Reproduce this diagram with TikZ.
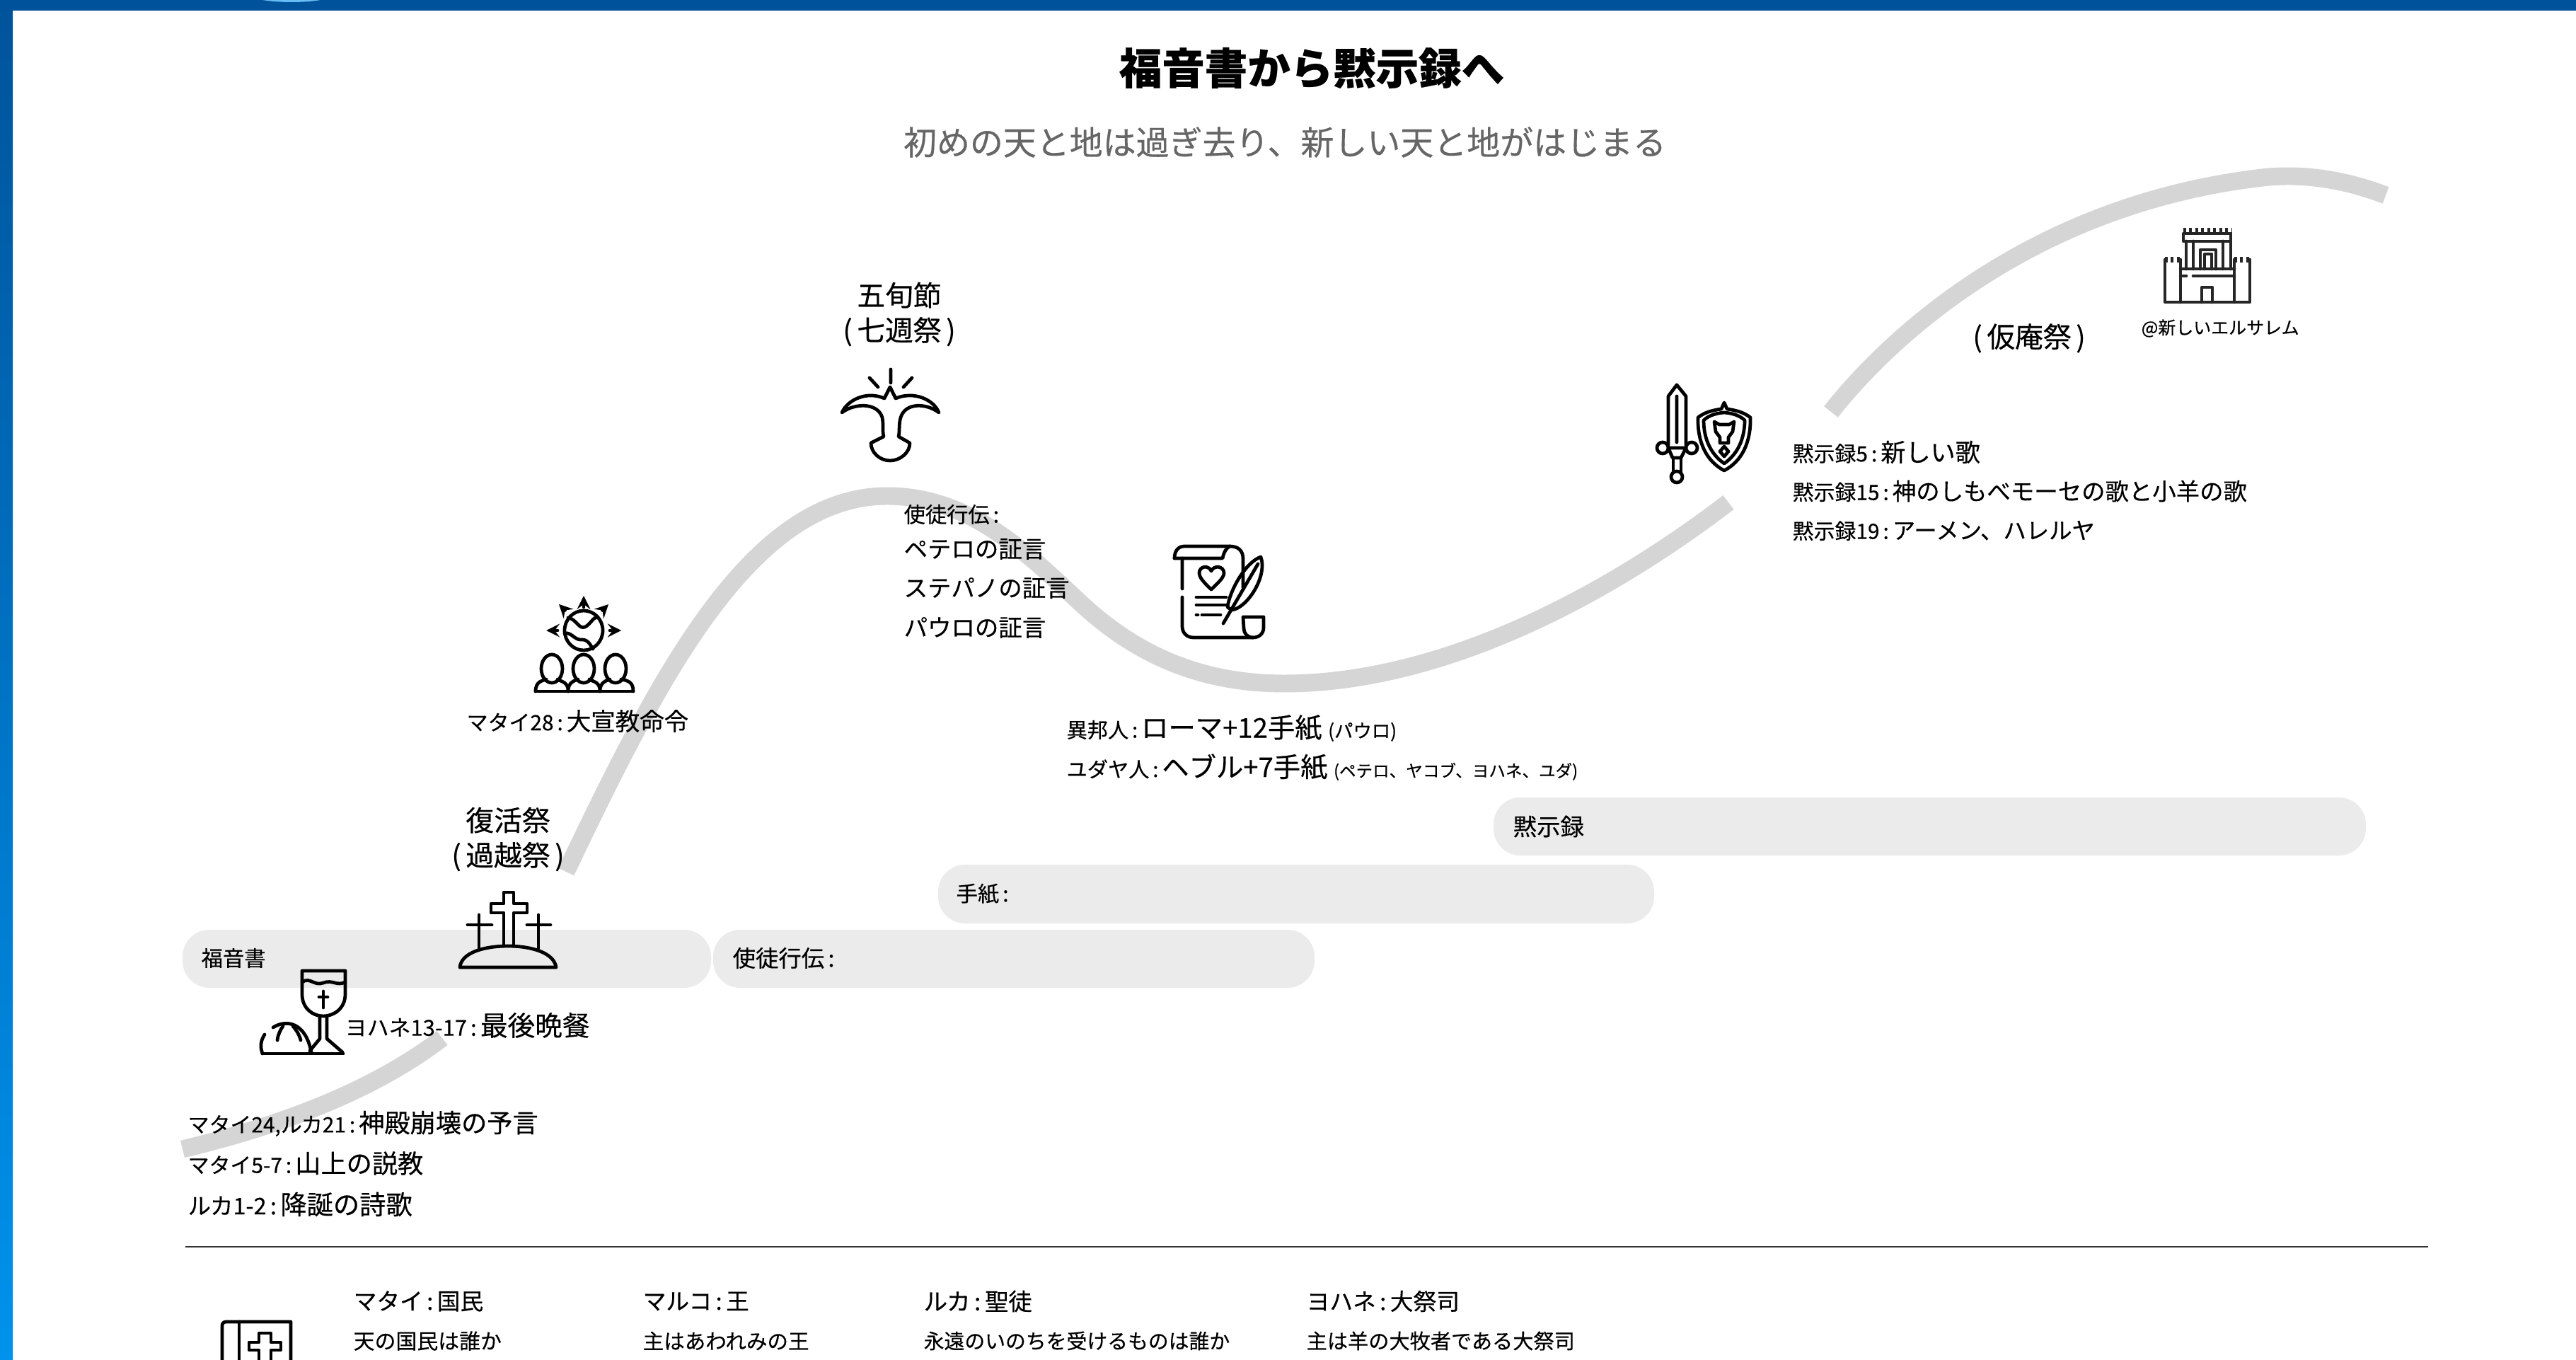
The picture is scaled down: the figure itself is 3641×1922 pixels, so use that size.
\documentclass[tikz,border=0pt]{standalone}
\usepackage{fontspec}
\setmainfont{Noto Sans CJK JP}[FakeBold=0.35]
\definecolor{barblue}{HTML}{00539B}
\definecolor{barlight}{HTML}{0092EC}
\definecolor{wavegray}{HTML}{D5D5D5}
\definecolor{bandgray}{HTML}{EBEBEB}
\definecolor{subgray}{HTML}{666666}
\newcommand{\fz}[1]{\fontsize{#1}{14}\selectfont}
\newcommand{\cln}{\,:\,}
\begin{document}
\begin{tikzpicture}[x=0.01cm,y=-0.01cm]
\tikzstyle{every node}+=[inner sep=0pt]
\tikzstyle{lab}=[anchor=west,font=\fz{9.5}]
\tikzstyle{feast}=[align=center,font=\fz{11.3}]
\tikzstyle{band}=[fill=bandgray,rounded corners=0.38cm]
\tikzstyle{wave}=[draw=wavegray,line width=7.1pt]
\tikzstyle{icon}=[black,line width=1.35pt,line join=round,line cap=round]
\useasboundingbox (0,0) rectangle (3641,1922);
\fill [white] (0,0) rectangle (3641,1922);
\shade [top color=barblue,bottom color=barlight] (0,0) rectangle (18,1922);
\fill [barblue] (0,0) rectangle (3641,15);
\fill [barlight!60!white] (371,0) .. controls (395,4) and (430,4) .. (453,0) -- cycle;
\fill [band] (258,1314) rectangle (1005,1396);
\fill [band] (1008,1314) rectangle (1858,1396);
\fill [band] (1326,1222) rectangle (2338,1305);
\fill [band] (2111,1127) rectangle (3344,1209);
\draw [wave] (258,1624) .. controls (400,1590) and (530,1540) .. (625,1467);
\draw [wave] (800,1232) .. controls (930,960) and (1060,701) .. (1254,701) .. controls (1370,701) and (1450,780) .. (1527,852) .. controls (1600,920) and (1690,966) .. (1815,966) .. controls (2030,966) and (2260,850) .. (2443,710);
\draw [wave] (2588,582) .. controls (2660,490) and (2860,290) .. (3198,251) .. controls (3260,244) and (3320,256) .. (3372,276);
\draw [black!80,line width=0.7pt] (262,1762) -- (3432,1762);
\node (title) at (1854,96) {\fz{17.2}\bfseries 福音書から黙示録へ};
\node (subtitle) at (1816,201) {\fz{13.35}\color{subgray}初めの天と地は過ぎ去り、新しい天と地がはじまる};
\node (gospels) at (284,1354) [lab] {\fz{8.6}福音書};
\node (acts) at (1035,1354) [lab] {\fz{9.2}使徒行伝\cln};
\node (letters) at (1351,1263) [lab] {\fz{8.6}手紙\cln};
\node (revband) at (2138,1168) [lab] {\fz{9.5}黙示録};
\node (prophecy) at (265,1588) [lab] {\fz{8.5}マタイ24,ルカ21\cln\fz{10.3}神殿崩壊の予言};
\node (sermon) at (265,1644) [lab] {\fz{8.5}マタイ5-7\cln\fz{10.3}山上の説教};
\node (nativity) at (265,1702) [lab] {\fz{9.2}ルカ1-2\cln\fz{10.6}降誕の詩歌};
\node (supper) at (487,1449) [lab] {\fz{8.8}ヨハネ13-17\cln\fz{11}最後晩餐};
\node (passover) at (718,1186) [feast] {復活祭\\(\,過越祭\,)};
\node (mission) at (659,1019) [lab] {\fz{8.5}マタイ28\cln\fz{9.8}大宣教命令};
\node (pentecost) at (1271,444) [feast] {五旬節\\(\,七週祭\,)};
\node (actshead) at (1277,727) [lab] {\fz{8.6}使徒行伝\cln};
\node (peter) at (1277,776) [lab] {ペテロの証言};
\node (stephen) at (1277,831) [lab] {ステパノの証言};
\node (paul) at (1277,887) [lab] {パウロの証言};
\node (gentiles) at (1507,1029) [lab] {\fz{8.3}異邦人\cln\fz{10.9}ローマ+12手紙 \fz{7.5}(パウロ)};
\node (jews) at (1507,1084) [lab] {\fz{8.3}ユダヤ人\cln\fz{10.9}ヘブル+7手紙 \fz{6.7}(ペテロ、ヤコブ、ヨハネ、ユダ)};
\node (revfive) at (2533,639) [lab] {\fz{8.5}黙示録5\cln\fz{10}新しい歌};
\node (revfifteen) at (2533,694) [lab] {\fz{8.5}黙示録15\cln\fz{9.5}神のしもべモーセの歌と小羊の歌};
\node (revnineteen) at (2533,750) [lab] {\fz{8.5}黙示録19\cln\fz{9.2}アーメン、ハレルヤ};
\node (tabernacles) at (2868,478) [feast] {(\,仮庵祭\,)};
\node (jerusalem) at (3026,464) [lab] {\fz{7.1}@新しいエルサレム};
\node (matthew) at (499,1839) [lab] {\fz{9.3}マタイ\cln 国民};
\node (mark) at (908,1839) [lab] {\fz{9.3}マルコ\cln 王};
\node (luke) at (1305,1839) [lab] {\fz{9.5}ルカ\cln 聖徒};
\node (john) at (1846,1839) [lab] {\fz{9.3}ヨハネ\cln 大祭司};
\node (matthewq) at (499,1895) [lab] {\fz{8.5}天の国民は誰か};
\node (markq) at (908,1895) [lab] {\fz{8.4}主はあわれみの王};
\node (lukeq) at (1305,1895) [lab] {\fz{8.2}永遠のいのちを受けるものは誰か};
\node (johnq) at (1846,1895) [lab] {\fz{8.3}主は羊の大牧者である大祭司};
\draw [icon] (427,1372) -- (488,1372) -- (488,1405) .. controls (488,1425) and (472,1436) .. (457,1436) .. controls (442,1436) and (427,1425) .. (427,1405) -- cycle;
\draw [icon] (427,1388) .. controls (438,1380) and (444,1394) .. (457,1389) .. controls (470,1384) and (476,1394) .. (488,1388);
\draw [icon] (457,1401) -- (457,1424) (451,1409) -- (463,1409);
\draw [icon] (452,1436) -- (452,1468) -- (438,1485) (462,1436) -- (462,1468) -- (484,1487);
\draw [icon] (371,1489) -- (485,1489);
\draw [icon] (371,1489) .. controls (367,1478) and (369,1470) .. (374,1462);
\draw [icon] (386,1452) .. controls (405,1440) and (432,1445) .. (440,1487);
\draw [icon] (392,1470) .. controls (393,1462) and (396,1456) .. (400,1450) (414,1450) .. controls (419,1456) and (423,1462) .. (425,1470);
\draw [icon] (712,1337) -- (712,1290) -- (694,1290) -- (694,1277) -- (712,1277) -- (712,1261) -- (726,1261) -- (726,1277) -- (745,1277) -- (745,1290) -- (726,1290) -- (726,1337);
\draw [icon] (677,1340) -- (677,1293) (661,1307) -- (695,1307);
\draw [icon] (761,1340) -- (761,1293) (745,1307) -- (778,1307);
\draw [icon] (650,1367) .. controls (652,1346) and (685,1337) .. (718,1337) .. controls (750,1337) and (783,1346) .. (786,1367) -- cycle;
\draw [icon] (825,891) ellipse [x radius=27,y radius=28];
\draw [icon] (803,873) .. controls (815,875) and (818,890) .. (827,886) .. controls (835,882) and (838,872) .. (845,872);
\draw [icon] (798,895) .. controls (808,893) and (812,905) .. (822,904) .. controls (832,903) and (836,915) .. (838,917);
\draw [icon,->,>=stealth] (825,858) -- (825,842);
\draw [icon,->,>=stealth] (788,891) -- (772,891);
\draw [icon,->,>=stealth] (862,891) -- (878,891);
\draw [icon,->,>=stealth] (798,862) -- (790,854);
\draw [icon,->,>=stealth] (852,862) -- (860,854);
\draw [icon] (780,945) ellipse [x radius=15,y radius=20];
\draw [icon] (825,945) ellipse [x radius=15,y radius=20];
\draw [icon] (870,945) ellipse [x radius=15,y radius=20];
\draw [icon] (757,977) .. controls (757,962) and (768,962) .. (772,960) (788,960) .. controls (795,964) and (803,964) .. (803,977);
\draw [icon] (803,977) .. controls (803,964) and (812,962) .. (817,960) (833,960) .. controls (840,964) and (848,964) .. (848,977);
\draw [icon] (848,977) .. controls (848,964) and (857,962) .. (862,960) (878,960) .. controls (888,962) and (895,964) .. (895,977);
\draw [icon] (757,977) -- (895,977);
\draw [icon] (1190,583) .. controls (1198,565) and (1225,552) .. (1250,563) -- (1258,547) -- (1266,563) .. controls (1292,552) and (1320,565) .. (1327,583) .. controls (1310,570) and (1280,568) .. (1273,590) .. controls (1270,600) and (1272,610) .. (1270,617) -- (1286,626) .. controls (1286,640) and (1272,651) .. (1258,651) .. controls (1244,651) and (1231,640) .. (1231,626) -- (1249,617) .. controls (1247,610) and (1249,600) .. (1247,590) .. controls (1240,568) and (1207,570) .. (1190,583) -- cycle;
\draw [icon] (1259,522) -- (1259,541) (1229,534) -- (1241,547) (1289,534) -- (1277,547);
\draw [icon] (1660,789) .. controls (1660,778) and (1666,772) .. (1674,772) -- (1738,772) .. controls (1750,772) and (1757,778) .. (1757,790) -- (1757,830);
\draw [icon] (1660,789) -- (1728,789) .. controls (1730,780) and (1733,775) .. (1738,772);
\draw [icon] (1671,789) -- (1671,832) (1671,844) -- (1671,885) .. controls (1671,895) and (1678,901) .. (1687,901) -- (1771,901);
\draw [icon] (1757,872) -- (1786,872) -- (1786,887) .. controls (1786,896) and (1779,901) .. (1771,901) .. controls (1763,901) and (1758,895) .. (1758,888) -- (1757,872);
\draw [icon] (1712,833) .. controls (1700,822) and (1695,815) .. (1695,810) .. controls (1695,800) and (1708,798) .. (1712,807) .. controls (1716,798) and (1730,800) .. (1730,810) .. controls (1730,815) and (1724,822) .. (1712,833) -- cycle;
\draw [icon] (1691,844) -- (1733,844) (1691,855) -- (1733,855) (1691,869) -- (1693,869) (1699,869) -- (1725,869);
\draw [icon] (1735,858) .. controls (1738,835) and (1760,795) .. (1782,787) .. controls (1792,815) and (1762,860) .. (1741,862) -- cycle;
\draw [icon] (1729,881) -- (1778,797);
\draw [icon] (2370,544) -- (2383,560) -- (2383,629) (2370,544) -- (2358,560) -- (2358,629) (2370,560) -- (2370,625);
\draw [icon] (2350,633) circle (8) (2391,633) circle (8) (2370,674) circle (8);
\draw [icon] (2358,633) -- (2383,633) -- (2376,647) -- (2364,647) -- cycle;
\draw [icon] (2365,647) -- (2365,666) (2376,647) -- (2376,666);
\draw [icon] (2437,569) -- (2441,578) .. controls (2455,580) and (2465,583) .. (2474,590) .. controls (2475,625) and (2462,652) .. (2437,665) .. controls (2412,652) and (2399,625) .. (2400,590) .. controls (2409,583) and (2419,580) .. (2433,578) -- cycle;
\draw [icon] (2437,583) .. controls (2450,584) and (2460,588) .. (2466,594) .. controls (2466,620) and (2456,642) .. (2437,655) .. controls (2418,642) and (2408,620) .. (2408,594) .. controls (2414,588) and (2424,584) .. (2437,583) -- cycle;
\draw [icon] (2423,596) -- (2430,600) -- (2444,600) -- (2451,596) -- (2449,610) -- (2443,618) -- (2443,626) -- (2431,626) -- (2431,618) -- (2425,610) -- cycle;
\draw [icon] (2437,631) -- (2443,638) -- (2437,645) -- (2431,638) -- cycle;
\draw [icon,black!85] (3086,330) rectangle (3153,341);
\draw [icon,black!85] (3090,341) -- (3090,380) (3100,341) -- (3100,380) (3142,341) -- (3142,380) (3153,341) -- (3153,380);
\draw [icon,black!85] (3110,380) -- (3110,353) -- (3132,353) -- (3132,380) (3116,380) -- (3116,359) -- (3126,359) -- (3126,380);
\draw [black!85,line width=2.2pt,dash pattern=on 1.1pt off 1.3pt] (3086,326) -- (3154,326);
\draw [black!85,line width=2.2pt,dash pattern=on 1.1pt off 1.3pt] (3060,367) -- (3083,367);
\draw [black!85,line width=2.2pt,dash pattern=on 1.1pt off 1.3pt] (3158,367) -- (3180,367);
\draw [icon,black!85] (3060,367) -- (3060,427) -- (3180,427) -- (3180,367);
\draw [icon,black!85] (3082,367) -- (3082,427) (3158,367) -- (3158,427);
\draw [icon,black!85] (3082,380) -- (3158,380) (3082,390) -- (3090,390) (3100,390) -- (3158,390);
\draw [icon,black!85] (3112,427) -- (3112,406) -- (3127,406) -- (3127,427);
\draw [icon] (314,1922) -- (314,1874) .. controls (314,1870) and (316,1868) .. (320,1868) -- (411,1868) -- (411,1922);
\draw [icon] (338,1922) -- (338,1868);
\draw [icon] (366,1922) -- (366,1908) -- (352,1908) -- (352,1897) -- (366,1897) -- (366,1884) -- (383,1884) -- (383,1897) -- (397,1897) -- (397,1908) -- (383,1908) -- (383,1922);
\end{tikzpicture}
\end{document}
